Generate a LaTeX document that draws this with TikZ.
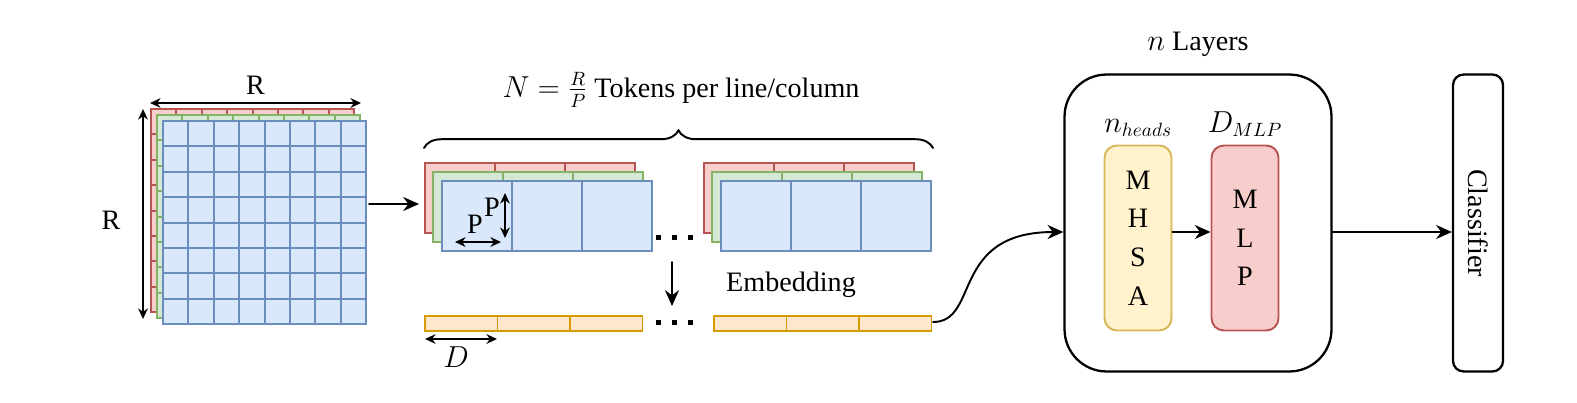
\documentclass[tikz,border=0pt]{standalone}
\usepackage{fontspec}
\setmainfont{Liberation Serif}
\usetikzlibrary{positioning,decorations.pathreplacing,arrows.meta}
\definecolor{redfill}{HTML}{F8CECC}\definecolor{redline}{HTML}{B85450}
\definecolor{greenfill}{HTML}{D5E8D4}\definecolor{greenline}{HTML}{82B366}
\definecolor{bluefill}{HTML}{DAE8FC}\definecolor{blueline}{HTML}{6C8EBF}
\definecolor{yelfill}{HTML}{FFF2CC}\definecolor{yelline}{HTML}{D6B656}
\definecolor{orfill}{HTML}{FFE6CC}\definecolor{orline}{HTML}{D79B00}
\begin{document}
\begin{tikzpicture}[x=0.02cm,y=-0.02cm,line cap=round,font=\fontsize{16}{19}\selectfont]
  \tikzset{
    arr/.style={-{Stealth[length=9pt,width=8pt]}, line width=1.1pt},
    dim/.style={{Stealth[length=6pt,width=5.5pt]}-{Stealth[length=6pt,width=5.5pt]}, line width=1pt},
    block/.style={draw, rounded corners=7pt, line width=1.1pt, minimum width=1.34cm, minimum height=3.7cm, align=center},
  }
  \useasboundingbox (0,0) rectangle (1577,402);
  % parameters
  \def\cw{25.4}  % cell size of the image grid
  \def\pw{70}    % patch width

  % image channels
  \foreach \x/\y/\f/\l in {151/109/redfill/redline, 157/115/greenfill/greenline, 163/121/bluefill/blueline} {
    \foreach \i in {0,...,7}
      \foreach \j in {0,...,7}
        \draw[fill=\f, draw=\l, line width=1.1pt] (\x+\i*\cw,\y+\j*\cw) rectangle ++(\cw,\cw);
  }
  \coordinate (imgE) at (369,204);
  \draw[dim] (150,103) -- node[above=1pt] {R} (361,103);
  \draw[dim] (143,109) -- (143,319);
  \node at (111,220) {R};

  % patches
  \foreach \gx/\bx in {425/425, 704/714} {
    \foreach \x/\y/\f/\l in {0/163/redfill/redline, 8/172/greenfill/greenline, 17/181/bluefill/blueline}
      \foreach \i in {0,1,2}
        \draw[fill=\f, draw=\l, line width=1.1pt] (\gx+\x+\i*\pw,\y) rectangle ++(\pw,70);
    \foreach \i in {0,1,2}
      \draw[fill=orfill, draw=orline, line width=1.1pt] (\bx+\i*72.5,316) rectangle ++(72.5,15);
  }
  \coordinate (patW) at (419,204);
  \foreach \y in {237, 322}
    \foreach \x in {658, 674, 690}
      \fill (\x-2.5,\y-2.5) rectangle ++(5,5);
  \draw[dim] (505,193) -- (505,238);
  \draw[dim] (455,242) -- (501,242);
  \node at (475,224) {P};
  \node at (492,207) {P};
  \draw[dim] (425,339) -- (497,339);
  \node at (456,357) {$D$};
  \coordinate (patS) at (672,262);
  \coordinate (embN) at (672,306);
  \node at (791,285) {Embedding};
  \coordinate (embE) at (933,322);

  % brace
  \draw[decorate, decoration={brace, amplitude=10pt}, line width=1.1pt] (424,148) -- (933,148);
  \node at (681,90) {$N=\frac{R}{P}$ Tokens per line/column};

  % transformer
  \node[draw, rounded corners=24pt, line width=1.3pt, minimum width=5.34cm, minimum height=5.94cm] (enc) at (1198,223) {};
  \node[above=6pt of enc.north] {$n$ Layers};
  \node[block, fill=yelfill, draw=yelline] (mhsa) at (1138,238) {M\\[3pt]H\\[3pt]S\\[3pt]A};
  \node[block, fill=redfill, draw=redline] (mlp) at (1245,238) {M\\[3pt]L\\[3pt]P};
  \node[above=1pt of mhsa.north] {$n_{heads}$};
  \node[above=1pt of mlp.north] {$D_{MLP}$};
  \node[draw, rounded corners=6pt, line width=1.3pt, minimum width=1cm, minimum height=5.94cm] (cls) at (1478,223) {};
  \node[rotate=-90] at (cls) {Classifier};

  % connectors
  \draw[arr] (imgE) -- (patW);
  \draw[arr] (patS) -- (embN);
  \draw[arr] (mhsa.east |- 0,232) -- (mlp.west |- 0,232);
  \draw[arr] (enc.east |- 0,232) -- (cls.west |- 0,232);
  \draw[arr] (embE) .. controls (980,322) and (950,232) .. (enc.west |- 0,232);
\end{tikzpicture}
\end{document}
